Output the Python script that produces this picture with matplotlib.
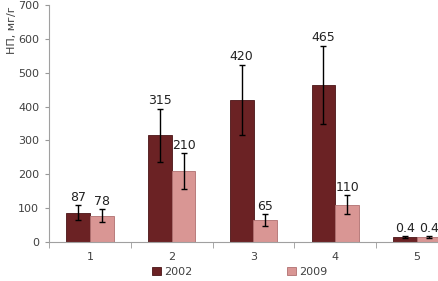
import matplotlib
matplotlib.use("Agg")
import matplotlib.pyplot as plt
import numpy as np

categories = ["1", "2", "3", "4", "5"]
vals_2002 = [87, 315, 420, 465, 15]
vals_2009 = [78, 210, 65, 110, 15]
err_2002 = [22, 79, 104, 115, 3]
err_2009 = [19, 53, 17, 28, 3]
labels_2002 = ["87", "315", "420", "465", "0.4"]
labels_2009 = ["78", "210", "65", "110", "0.4"]
series_names = ["2002", "2009"]
yticks = [0, 100, 200, 300, 400, 500, 600, 700]

dark = "#6B2224"
light = "#D99694"
tick_color = "#404040"

fig = plt.figure(figsize=(4.39, 2.81), dpi=100)
ax = fig.add_axes([49/439, 39/281, 409/439, 237/281])

x = np.arange(1, len(categories) + 1)
w = 0.29
b1 = ax.bar(x - w/2, vals_2002, w, color=dark, edgecolor="#4A1416", linewidth=0.6, label=series_names[0])
b2 = ax.bar(x + w/2, vals_2009, w, color=light, edgecolor="#B07070", linewidth=0.6, label=series_names[1])
ax.errorbar(x - w/2, vals_2002, yerr=err_2002, fmt="none", ecolor="black", elinewidth=1, capsize=2.5, capthick=1)
ax.errorbar(x + w/2, vals_2009, yerr=err_2009, fmt="none", ecolor="black", elinewidth=1, capsize=2.5, capthick=1)

for xi, v, e, lab in zip(x - w/2, vals_2002, err_2002, labels_2002):
    ax.text(xi, v + e + 4, lab, ha="center", va="bottom", fontsize=9, color="#222222")
for xi, v, e, lab in zip(x + w/2, vals_2009, err_2009, labels_2009):
    ax.text(xi, v + e + 4, lab, ha="center", va="bottom", fontsize=9, color="#222222")

ax.set_xlim(0.5, 5.5)
ax.set_ylim(0, 700)
ax.set_yticks(yticks)
ax.set_xticks(x)
ax.set_xticklabels(categories)
ax.set_xticks(np.arange(0.5, 6.0, 1.0), minor=True)
ax.tick_params(axis="x", which="major", length=0, pad=7, labelsize=8, labelcolor=tick_color)
ax.tick_params(axis="x", which="minor", length=4, color="#999999", direction="out")
ax.tick_params(axis="y", length=3, color="#999999", labelsize=8, labelcolor=tick_color, pad=4)
for s in ["top", "right"]:
    ax.spines[s].set_visible(False)
for s in ["left", "bottom"]:
    ax.spines[s].set_color("#A0A0A0")
    ax.spines[s].set_linewidth(0.8)

fig.text(7/439, 1 - 6/281, "НП, мг/г", rotation=90, ha="left", va="top", fontsize=8, color=tick_color)

leg = fig.legend(handles=[b1, b2], labels=series_names, loc="center", bbox_to_anchor=(240/439, 9/281),
                 ncol=2, frameon=False, fontsize=8, handlelength=0.8, handleheight=0.8,
                 columnspacing=8.5, handletextpad=0.3)
for t in leg.get_texts():
    t.set_color(tick_color)

fig.savefig("out.png", dpi=100)
